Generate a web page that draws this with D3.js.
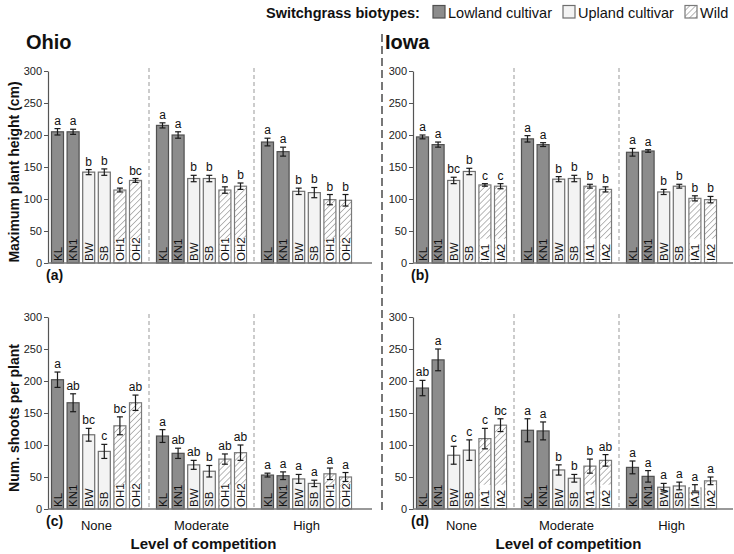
<!DOCTYPE html>
<html><head><meta charset="utf-8">
<script src="https://cdn.jsdelivr.net/npm/d3@7"></script>
<style>
body{margin:0;background:#fff;}
svg{font-family:"Liberation Sans",Arial,sans-serif;}
</style></head>
<body><svg id="chart" width="734" height="554"></svg>
<script>
const levels = ["None", "Moderate", "High"];
const ohioGenotypes = ["KL", "KN1", "BW", "SB", "OH1", "OH2"];
const iowaGenotypes = ["KL", "KN1", "BW", "SB", "IA1", "IA2"];
const biotypes = ["Lowland cultivar", "Upland cultivar", "Wild"];
const genotypeBiotype = [0, 0, 1, 1, 2, 2];
const yTicks = [0, 50, 100, 150, 200, 250, 300];

const ohioHeight = [[205, 205, 142, 142, 114, 129], [215, 200, 132, 132, 114, 120], [189, 174, 112, 110, 99, 98]];
const ohioHeightErr = [[5, 4, 4, 5, 3, 3], [4, 5, 5, 5, 5, 5], [6, 7, 5, 8, 8, 9]];
const ohioHeightLetters = [["a", "a", "b", "b", "c", "bc"], ["a", "a", "b", "b", "b", "b"], ["a", "a", "b", "b", "b", "b"]];

const iowaHeight = [[197, 185, 129, 143, 122, 120], [194, 185, 131, 132, 120, 115], [173, 175, 111, 120, 101, 99]];
const iowaHeightErr = [[3, 4, 5, 5, 2, 4], [5, 3, 4, 5, 3, 4], [6, 2, 4, 3, 4, 5]];
const iowaHeightLetters = [["a", "a", "bc", "b", "c", "c"], ["a", "a", "b", "b", "b", "b"], ["a", "a", "b", "b", "b", "b"]];

const ohioShoots = [[202, 166, 116, 90, 130, 166], [114, 87, 69, 59, 78, 88], [53, 52, 47, 40, 55, 50]];
const ohioShootsErr = [[12, 14, 10, 11, 14, 12], [10, 8, 7, 9, 8, 12], [3, 6, 7, 5, 9, 7]];
const ohioShootsLetters = [["a", "ab", "bc", "c", "bc", "ab"], ["a", "ab", "ab", "b", "ab", "ab"], ["a", "a", "a", "a", "a", "a"]];

const iowaShoots = [[189, 233, 84, 92, 110, 131], [123, 122, 61, 48, 67, 76], [65, 51, 34, 36, 33, 44]];
const iowaShootsErr = [[12, 17, 14, 16, 16, 10], [18, 14, 8, 6, 11, 9], [10, 9, 6, 6, 5, 6]];
const iowaShootsLetters = [["ab", "a", "c", "c", "c", "bc"], ["a", "a", "b", "b", "b", "ab"], ["a", "a", "a", "a", "a", "a"]];

const svg = d3.select("#chart");
const defs = svg.append("defs");
const pat = defs.append("pattern").attr("id", "hatch").attr("patternUnits", "userSpaceOnUse")
  .attr("width", 4.2).attr("height", 4.2).attr("patternTransform", "rotate(45)");
pat.append("rect").attr("width", 4.2).attr("height", 4.2).attr("fill", "#fff");
pat.append("line").attr("x1", 0).attr("y1", 0).attr("x2", 0).attr("y2", 4.2)
  .attr("stroke", "#8a8a8a").attr("stroke-width", 1.2);

const fills = ["#8c8c8c", "#f3f3f3", "url(#hatch)"];
const strokes = ["#505050", "#6e6e6e", "#7a7a7a"];

// Legend
const leg = svg.append("g");
leg.append("text").attr("x", 266).attr("y", 18).attr("font-size", 14.5).attr("font-weight", "bold")
  .attr("fill", "#111").text("Switchgrass biotypes:");
const legX = [433, 563, 685];
biotypes.forEach((b, i) => {
  leg.append("rect").attr("x", legX[i]).attr("y", 5.5).attr("width", 12).attr("height", 12.5)
    .attr("fill", fills[i]).attr("stroke", strokes[i]).attr("stroke-width", 1.2);
  leg.append("text").attr("x", legX[i] + 15).attr("y", 18).attr("font-size", 14.5).attr("fill", "#111").text(b);
});

// Titles
svg.append("text").attr("x", 26).attr("y", 48.5).attr("font-size", 20).attr("font-weight", "bold").attr("fill", "#111").text("Ohio");
svg.append("text").attr("x", 385).attr("y", 48.5).attr("font-size", 20).attr("font-weight", "bold").attr("fill", "#111").text("Iowa");

// central divider
svg.append("line").attr("x1", 382).attr("x2", 382).attr("y1", 34).attr("y2", 512)
  .attr("stroke", "#777").attr("stroke-width", 2).attr("stroke-dasharray", "8,4");

function panel(opts) {
  const {axisX, xRight, yTop, yBottom, values, errs, letters, genos, tag, xlabels, ylabel} = opts;
  const g = svg.append("g");
  const y = d3.scaleLinear().domain([0, 300]).range([yBottom, yTop]);
  const xOuter = d3.scaleBand().domain(levels).range([axisX - 4, axisX - 4 + 315]);
  const xInner = d3.scaleBand().domain(d3.range(6)).range([0, xOuter.bandwidth()])
    .paddingInner(0.23).paddingOuter(0.48);

  levels.forEach((lv, li) => {
    const gx = xOuter(lv);
    genos.forEach((gn, gi) => {
      const v = values[li][gi], e = errs[li][gi];
      const bt = genotypeBiotype[gi];
      const x0 = gx + xInner(gi), w = xInner.bandwidth(), cx = x0 + w / 2;
      g.append("rect").attr("x", x0).attr("y", y(v)).attr("width", w).attr("height", y(0) - y(v))
        .attr("fill", fills[bt]).attr("stroke", strokes[bt]).attr("stroke-width", 1.2);
      // label inside bar
      const fs = 11.5;
      const lab = g.append("g").attr("transform", `translate(${cx + fs * 0.36},${y(0) - 2}) rotate(-90)`);
      if (bt === 2) {
        const tw = gn.length * 7.6;
        lab.append("rect").attr("x", -0.5).attr("y", -fs * 0.78).attr("width", tw).attr("height", fs * 0.9).attr("fill", "#fff");
      }
      lab.append("text").attr("x", 0).attr("y", 0).attr("font-size", fs).attr("fill", "#111").text(gn);
      // error bar
      const et = y(v + e), eb = y(v - e);
      g.append("line").attr("x1", cx).attr("x2", cx).attr("y1", et).attr("y2", eb).attr("stroke", "#1a1a1a").attr("stroke-width", 1.2);
      [et, eb].forEach(yy => g.append("line").attr("x1", cx - 3).attr("x2", cx + 3).attr("y1", yy).attr("y2", yy)
        .attr("stroke", "#1a1a1a").attr("stroke-width", 1.2));
      g.append("text").attr("x", cx).attr("y", et - 4).attr("text-anchor", "middle").attr("font-size", 12)
        .attr("fill", "#111").text(letters[li][gi]);
    });
    if (li > 0) {
      g.append("line").attr("x1", gx).attr("x2", gx).attr("y1", yTop - 3).attr("y2", yBottom)
        .attr("stroke", "#999").attr("stroke-width", 1).attr("stroke-dasharray", "4,3");
    }
    if (xlabels) {
      g.append("text").attr("x", gx + xOuter.bandwidth() / 2).attr("y", yBottom + 21).attr("text-anchor", "middle")
        .attr("font-size", 13).attr("fill", "#111").text(lv);
    }
  });

  // axes
  const ax = g.append("g").attr("transform", `translate(${axisX},0)`)
    .call(d3.axisLeft(y).tickValues(yTicks).tickSize(4).tickSizeOuter(0).tickPadding(2));
  ax.select(".domain").attr("stroke", "#555").attr("stroke-width", 1.2);
  ax.selectAll(".tick line").attr("stroke", "#555");
  ax.selectAll(".tick text").attr("font-size", 11).attr("fill", "#222").attr("font-family", "Liberation Sans, Arial, sans-serif");
  g.append("line").attr("x1", axisX).attr("x2", xRight).attr("y1", y(0)).attr("y2", y(0))
    .attr("stroke", "#777").attr("stroke-width", 1.5);

  g.append("text").attr("x", axisX - 2).attr("y", yBottom + 17).attr("font-size", 14).attr("font-weight", "bold")
    .attr("fill", "#111").text(tag);
  if (xlabels) {
    g.append("text").attr("x", xOuter("Moderate") + xOuter.bandwidth() / 2 + 2).attr("y", yBottom + 40)
      .attr("text-anchor", "middle").attr("font-size", 15).attr("font-weight", "bold").attr("fill", "#111")
      .text("Level of competition");
  }
  if (ylabel) {
    g.append("text").attr("transform", `translate(19,${(yTop + yBottom) / 2 + 5}) rotate(-90)`)
      .attr("text-anchor", "middle").attr("font-size", 14).attr("font-weight", "bold").attr("fill", "#111").text(ylabel);
  }
}

panel({axisX: 48, xRight: 372, yTop: 71, yBottom: 263, values: ohioHeight, errs: ohioHeightErr, letters: ohioHeightLetters,
  genos: ohioGenotypes, tag: "(a)", xlabels: false, ylabel: "Maximum plant height (cm)"});
panel({axisX: 413, xRight: 733, yTop: 71, yBottom: 263, values: iowaHeight, errs: iowaHeightErr, letters: iowaHeightLetters,
  genos: iowaGenotypes, tag: "(b)", xlabels: false, ylabel: null});
panel({axisX: 48, xRight: 372, yTop: 317, yBottom: 509, values: ohioShoots, errs: ohioShootsErr, letters: ohioShootsLetters,
  genos: ohioGenotypes, tag: "(c)", xlabels: true, ylabel: "Num. shoots per plant"});
panel({axisX: 413, xRight: 733, yTop: 317, yBottom: 509, values: iowaShoots, errs: iowaShootsErr, letters: iowaShootsLetters,
  genos: iowaGenotypes, tag: "(d)", xlabels: true, ylabel: null});
</script></body></html>
